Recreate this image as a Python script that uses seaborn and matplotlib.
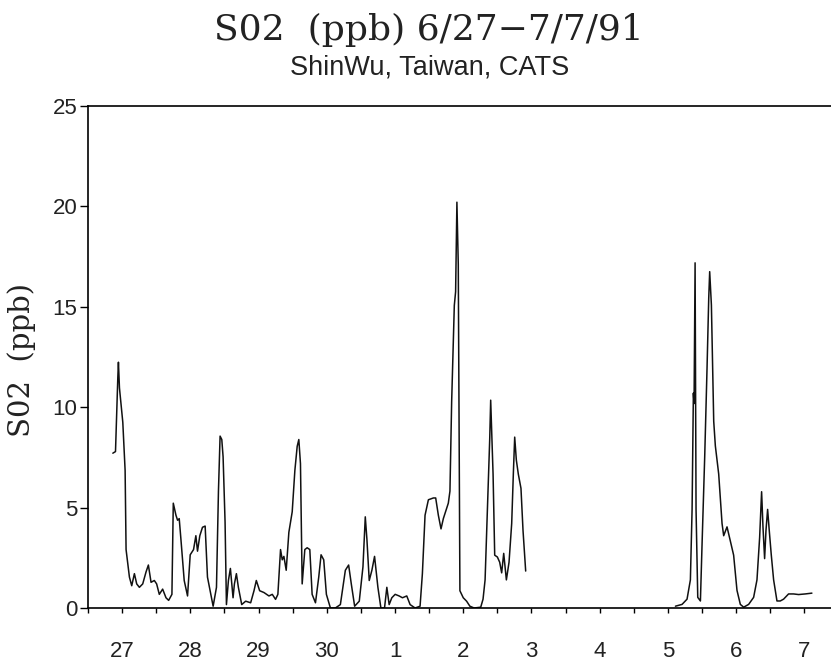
import numpy as np
import pandas as pd
import matplotlib
matplotlib.use("Agg")
import matplotlib.pyplot as plt
import seaborn as sns

# time in days after 6/27 (label "27" = 0)
seg1_days = [-0.136, -0.097, -0.063, -0.054, -0.039, 0.010, 0.044, 0.058, 0.107, 0.141,
             0.180, 0.214, 0.253, 0.302, 0.351, 0.385, 0.424, 0.472, 0.506, 0.545,
             0.594, 0.643, 0.682, 0.730, 0.750, 0.789, 0.813, 0.837, 0.862, 0.910,
             0.959, 0.998, 1.047, 1.081, 1.105, 1.139, 1.178, 1.217, 1.251, 1.300,
             1.334, 1.383, 1.412, 1.436, 1.461, 1.480, 1.509, 1.529, 1.558, 1.587,
             1.626, 1.646, 1.675, 1.704, 1.753, 1.811, 1.884, 1.933, 1.967, 2.016,
             2.079, 2.152, 2.201, 2.249, 2.283, 2.322, 2.347, 2.371, 2.405, 2.444,
             2.493, 2.532, 2.566, 2.590, 2.614, 2.639, 2.678, 2.712, 2.751, 2.785,
             2.834, 2.882, 2.916, 2.955, 2.994, 3.053, 3.126, 3.199, 3.272, 3.320,
             3.359, 3.408, 3.476, 3.530, 3.564, 3.588, 3.622, 3.661, 3.700, 3.749,
             3.793, 3.846, 3.880, 3.914, 3.953, 4.002, 4.060, 4.109, 4.172, 4.221,
             4.294, 4.367, 4.401, 4.440, 4.489, 4.562, 4.596, 4.635, 4.674, 4.708,
             4.781, 4.805, 4.830, 4.869, 4.888, 4.907, 4.927, 4.951, 5.000, 5.049,
             5.097, 5.159, 5.256, 5.290, 5.320, 5.354, 5.388, 5.402, 5.417, 5.437,
             5.461, 5.500, 5.534, 5.563, 5.593, 5.632, 5.671, 5.710, 5.734, 5.754,
             5.778, 5.807, 5.846, 5.876, 5.915]
seg1_so2 = [7.71, 7.79, 11.47, 12.24, 10.96, 9.25, 6.85, 2.91, 1.54, 1.11,
            1.71, 1.20, 1.03, 1.20, 1.80, 2.14, 1.28, 1.37, 1.20, 0.68,
            0.94, 0.51, 0.38, 0.68, 5.22, 4.62, 4.37, 4.45, 3.42, 1.37,
            0.60, 2.65, 2.91, 3.60, 2.83, 3.60, 4.02, 4.08, 1.54, 0.68,
            0.09, 1.03, 5.82, 8.56, 8.39, 7.53, 4.28, 0.17, 1.37, 1.97,
            0.51, 1.20, 1.71, 1.03, 0.17, 0.34, 0.26, 0.86, 1.37, 0.86,
            0.77, 0.60, 0.68, 0.43, 0.68, 2.91, 2.40, 2.57, 1.88, 3.77,
            4.79, 6.85, 8.05, 8.39, 7.19, 1.20, 2.91, 3.00, 2.91, 0.68,
            0.26, 1.54, 2.65, 2.40, 0.68, 0.00, 0.00, 0.17, 1.88, 2.14,
            1.20, 0.09, 0.34, 2.05, 4.54, 3.42, 1.37, 1.88, 2.57, 1.03,
            0.00, 0.00, 1.03, 0.17, 0.51, 0.68, 0.60, 0.51, 0.60, 0.17,
            0.00, 0.09, 1.71, 4.62, 5.39, 5.48, 5.48, 4.62, 3.94, 4.45,
            5.22, 5.82, 10.27, 15.07, 15.75, 20.21, 17.12, 0.86, 0.51, 0.34,
            0.09, 0.00, 0.04, 0.44, 1.40, 4.91, 8.42, 10.35, 8.77, 6.67,
            2.63, 2.54, 2.28, 1.75, 2.72, 1.40, 2.28, 4.21, 6.67, 8.51,
            7.37, 6.67, 5.96, 3.86, 1.84]

seg2_days = [8.110, 8.207, 8.280, 8.329, 8.354, 8.373, 8.383, 8.398, 8.412, 8.437,
             8.476, 8.500, 8.539, 8.573, 8.598, 8.612, 8.637, 8.671, 8.695, 8.744,
             8.793, 8.817, 8.866, 8.915, 8.963, 9.012, 9.061, 9.110, 9.183, 9.256,
             9.305, 9.344, 9.373, 9.393, 9.417, 9.437, 9.461, 9.485, 9.515, 9.549,
             9.598, 9.646, 9.695, 9.768, 9.841, 9.915, 10.012, 10.110]
seg2_so2 = [0.09, 0.18, 0.44, 1.40, 4.91, 10.70, 10.18, 17.19, 4.91, 0.53,
            0.35, 3.16, 7.54, 11.93, 15.44, 16.75, 15.09, 9.30, 8.07, 6.67,
            4.21, 3.60, 4.04, 3.33, 2.63, 0.88, 0.18, 0.04, 0.18, 0.53,
            1.40, 3.51, 5.79, 4.04, 2.46, 3.86, 4.91, 3.86, 2.63, 1.40,
            0.35, 0.35, 0.44, 0.70, 0.70, 0.67, 0.70, 0.74]

day_labels = ["27", "28", "29", "30", "1", "2", "3", "4", "5", "6", "7"]
y_ticks = [0, 5, 10, 15, 20, 25]

df = pd.concat([
    pd.DataFrame({"day": seg1_days, "so2": seg1_so2, "seg": 1}),
    pd.DataFrame({"day": seg2_days, "so2": seg2_so2, "seg": 2}),
])

sns.set_style("ticks")
plt.rcParams["font.family"] = ["Liberation Sans", "DejaVu Sans"]

fig = plt.figure(figsize=(8.31, 6.65), dpi=100)
ax = fig.add_axes([88 / 831, 1 - 608 / 665, 1 - 88 / 831, (608 - 106) / 665])

# two runs of data with a gap between them
sns.lineplot(data=df, x="day", y="so2", units="seg", estimator=None,
             color="#111111", linewidth=1.1, ax=ax)

ax.set_xlim(-0.468, 10.39)
ax.set_ylim(0, 25)
ax.set_yticks(y_ticks)
ax.set_xticks(range(len(day_labels)))
ax.set_xticklabels(day_labels)
ax.set_xticks(np.arange(-0.5, 10.4, 0.5), minor=True)
ax.tick_params(axis="both", which="major", labelsize=16, color="black",
               width=1, direction="out", labelcolor="#222222")
ax.tick_params(axis="x", which="both", length=3.6, width=1, color="black", pad=20)
ax.tick_params(axis="y", length=5.5, pad=2)

for side in ["left", "top", "bottom"]:
    ax.spines[side].set_color("black")
    ax.spines[side].set_linewidth(1.2)
ax.spines["right"].set_visible(False)

ax.set_xlabel("")
ax.set_ylabel("S02  (ppb)", family="DejaVu Serif", fontsize=21, color="#222222")
ax.yaxis.set_label_coords(-0.07, 0.494)

fig.text(0.516, 1 - 40 / 665, "S02  (ppb) 6/27\u22127/7/91", family="DejaVu Serif",
         fontsize=26, ha="center", va="baseline", color="#222222")
fig.text(0.517, 1 - 74 / 665, "ShinWu, Taiwan, CATS", fontsize=19.5, ha="center",
         va="baseline", color="#222222")

fig.savefig("out.png", dpi=100)
